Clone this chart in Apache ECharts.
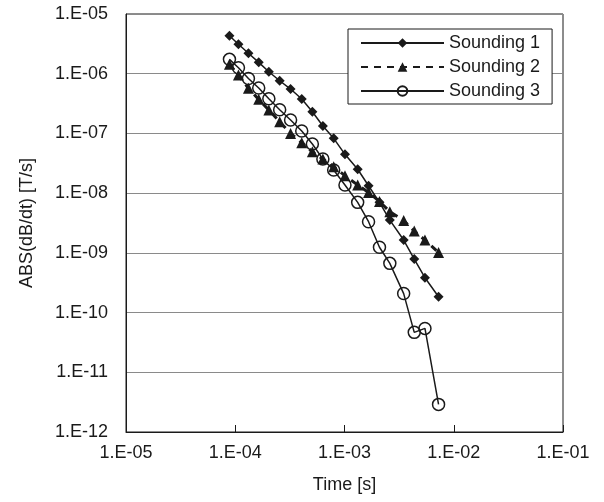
<!DOCTYPE html>
<html>
<head>
<meta charset="utf-8">
<script src="https://cdn.jsdelivr.net/npm/echarts@6/dist/echarts.min.js"></script>
<style>
  html, body { margin: 0; padding: 0; background: #fff; }
  #chart { width: 604px; height: 502px; }
</style>
</head>
<body>
<div id="chart"></div>
<script>
// time gates [s], shared by all three soundings
const times = [
  8.85e-5, 1.07e-4, 1.32e-4, 1.64e-4, 2.03e-4, 2.55e-4, 3.21e-4, 4.06e-4, 5.08e-4, 6.34e-4,
  7.96e-4, 1.01e-3, 1.32e-3, 1.66e-3, 2.09e-3, 2.6e-3, 3.48e-3, 4.35e-3, 5.45e-3, 7.26e-3
];
const sounding1 = [
  4.33e-6, 3.11e-6, 2.2e-6, 1.55e-6, 1.08e-6, 7.63e-7, 5.54e-7, 3.77e-7, 2.31e-7, 1.33e-7,
  8.28e-8, 4.47e-8, 2.51e-8, 1.33e-8, 7.01e-9, 3.54e-9, 1.64e-9, 7.87e-10, 3.83e-10, 1.84e-10
];
const sounding2 = [
  1.44e-6, 9.5e-7, 5.69e-7, 3.72e-7, 2.47e-7, 1.57e-7, 1.0e-7, 6.99e-8, 4.93e-8, 3.72e-8,
  2.77e-8, 1.96e-8, 1.37e-8, 1.03e-8, 7.23e-9, 4.88e-9, 3.48e-9, 2.32e-9, 1.64e-9, 1.01e-9
];
const sounding3 = [
  1.74e-6, 1.26e-6, 8.31e-7, 5.76e-7, 3.81e-7, 2.49e-7, 1.68e-7, 1.1e-7, 6.64e-8, 3.72e-8,
  2.44e-8, 1.37e-8, 7.01e-9, 3.32e-9, 1.24e-9, 6.67e-10, 2.08e-10, 4.66e-11, 5.43e-11, 2.9e-12
];
const seriesNames = ["Sounding 1", "Sounding 2", "Sounding 3"];
const xTickLabels = ["1.E-05", "1.E-04", "1.E-03", "1.E-02", "1.E-01"];
const yTickLabels = ["1.E-12", "1.E-11", "1.E-10", "1.E-09", "1.E-08", "1.E-07", "1.E-06", "1.E-05"];

const pairs = (vals) => times.map((t, i) => [t, vals[i]]);
const ink = "#1a1a1a";
const font = "Liberation Sans";

const myChart = echarts.init(document.getElementById("chart"));
myChart.setOption({
  animation: false,
  textStyle: { fontFamily: font },
  grid: {
    left: 126,
    right: 41,
    top: 14,
    bottom: 70,
    show: true,
    borderColor: ink,
    borderWidth: 1,
  },
  legend: {
    orient: "vertical",
    left: 348,
    top: 29,
    padding: [5, 12, 4, 12],
    borderColor: ink,
    borderWidth: 1,
    backgroundColor: "#fff",
    itemWidth: 83,
    itemHeight: 12,
    itemGap: 6,
    textStyle: { fontSize: 18, color: ink, fontFamily: font },
    data: seriesNames,
  },
  xAxis: {
    type: "log",
    logBase: 10,
    min: 1e-5,
    max: 1e-1,
    interval: 1,
    name: "Time [s]",
    nameLocation: "middle",
    nameGap: 44,
    nameTextStyle: { fontSize: 18, color: ink, fontFamily: font },
    axisLine: { lineStyle: { color: ink, width: 1 } },
    axisTick: { show: true, inside: true, length: 7, lineStyle: { color: ink } },
    axisLabel: {
      fontSize: 18,
      color: ink,
      margin: 12,
      formatter: (v) => xTickLabels[Math.round(Math.log10(v)) + 5],
    },
    splitLine: { show: false },
  },
  yAxis: {
    type: "log",
    logBase: 10,
    min: 1e-12,
    max: 1e-5,
    interval: 1,
    name: "ABS(dB/dt) [T/s]",
    nameLocation: "middle",
    nameGap: 90,
    nameTextStyle: { fontSize: 18, color: ink, fontFamily: font },
    axisLine: { show: true, lineStyle: { color: ink, width: 1 } },
    axisTick: { show: false },
    axisLabel: {
      fontSize: 18,
      color: ink,
      margin: 18,
      formatter: (v) => yTickLabels[Math.round(Math.log10(v)) + 12],
    },
    splitLine: { show: true, lineStyle: { color: "#8a8a8a", width: 1 } },
  },
  series: [
    {
      name: seriesNames[0],
      type: "line",
      data: pairs(sounding1),
      symbol: "diamond",
      symbolSize: 10,
      lineStyle: { color: ink, width: 1.5 },
      itemStyle: { color: ink },
      z: 3,
    },
    {
      name: seriesNames[1],
      type: "line",
      data: pairs(sounding2),
      symbol: "triangle",
      symbolSize: 11,
      lineStyle: { color: ink, width: 3, type: [7, 6] },
      itemStyle: { color: ink },
      z: 2,
    },
    {
      name: seriesNames[2],
      type: "line",
      data: pairs(sounding3),
      symbol: "circle",
      symbolSize: 12,
      lineStyle: { color: ink, width: 1.5 },
      itemStyle: { color: "transparent", borderColor: ink, borderWidth: 1.5 },
      z: 4,
    },
  ],
});
</script>
</body>
</html>
